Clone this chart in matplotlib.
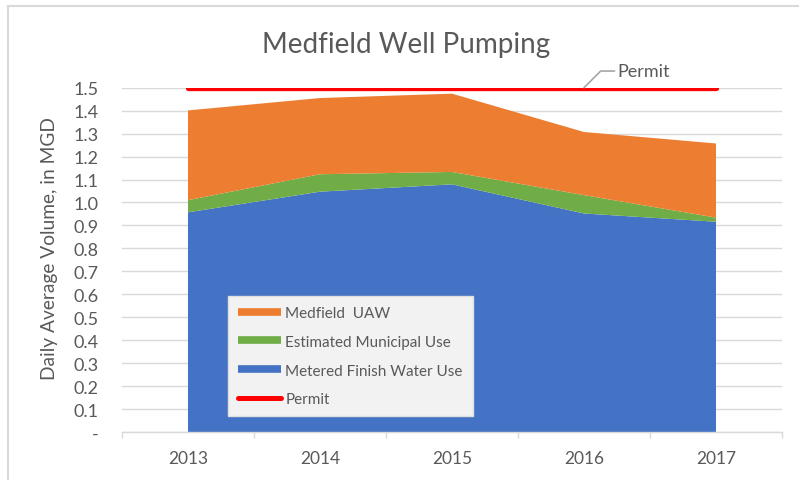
import numpy as np
import matplotlib
matplotlib.use("Agg")
from matplotlib import pyplot as plt
from matplotlib.lines import Line2D

plt.rcParams['font.family'] = ['Lato', 'DejaVu Sans']

# data (MGD)
years = ['2013', '2014', '2015', '2016', '2017']
metered = [0.957, 1.047, 1.079, 0.952, 0.916]
municipal = [0.053, 0.076, 0.054, 0.080, 0.018]
uaw = [0.391, 0.332, 0.341, 0.275, 0.323]
permit = [1.5, 1.5, 1.5, 1.5, 1.5]
yticks = [0.0, 0.1, 0.2, 0.3, 0.4, 0.5, 0.6, 0.7, 0.8, 0.9, 1.0, 1.1, 1.2, 1.3, 1.4, 1.5]
ytick_labels = ['-'] + ['%.1f' % v for v in yticks[1:]]

c_blue = '#4472C4'
c_green = '#70AD47'
c_orange = '#ED7D31'
c_red = '#FF0000'
c_grid = '#D9D9D9'
c_text = '#595959'

fig = plt.figure(figsize=(7.99, 4.81), dpi=100)
ax = fig.add_axes([122/799, 48/481, 660/799, 344.3/481])

x = np.arange(len(years))
ax.stackplot(x, metered, municipal, uaw, colors=[c_blue, c_green, c_orange],
             linewidth=0, zorder=2)
ax.plot(x, permit, color=c_red, lw=3.8, solid_capstyle='round', zorder=3)

# permit data label with leader line
ax.annotate('Permit', xy=(x[3], permit[3]), xytext=(24, 12), textcoords='offset points',
            fontsize=13, color=c_text, va='center', ha='left',
            arrowprops=dict(arrowstyle='-', color='#A6A6A6', lw=1.2,
                            connectionstyle='angle,angleA=0,angleB=45,rad=0',
                            relpos=(0, 0.5), shrinkA=0, shrinkB=0),
            zorder=4)

ax.set_xlim(-0.5, 4.5)
ax.set_ylim(0, 1.5)
ax.set_yticks(yticks)
ax.set_yticklabels(ytick_labels)
ax.set_xticks(x)
ax.set_xticklabels(years)
ax.set_xticks(np.arange(-0.5, 5, 1.0), minor=True)
ax.tick_params(axis='x', which='major', length=0, pad=13, labelsize=12.5, labelcolor=c_text)
ax.tick_params(axis='x', which='minor', length=4, color=c_grid, width=1)
ax.tick_params(axis='y', length=0, pad=17, labelsize=13, labelcolor=c_text)
ax.yaxis.grid(True, color=c_grid, lw=1)
ax.set_axisbelow(True)
for s in ['left', 'top', 'right']:
    ax.spines[s].set_visible(False)
ax.spines['bottom'].set_color(c_grid)
ax.spines['bottom'].set_linewidth(1)

fig.text(50/799, 1 - 249/481, 'Daily Average Volume, in MGD', rotation=90,
         ha='center', va='center', fontsize=13.8, color=c_text)
fig.text(406/799, 1 - 45/481, 'Medfield Well Pumping', ha='center', va='center',
         fontsize=20, color=c_text)

handles = [
    Line2D([], [], color=c_orange, lw=5.5, solid_capstyle='butt'),
    Line2D([], [], color=c_green, lw=5.5, solid_capstyle='butt'),
    Line2D([], [], color=c_blue, lw=5.5, solid_capstyle='butt'),
    Line2D([], [], color=c_red, lw=3.6, solid_capstyle='round'),
]
labels = ['Medfield  UAW', 'Estimated Municipal Use', 'Metered Finish Water Use', 'Permit']
leg = ax.legend(handles, labels, loc='upper left', bbox_to_anchor=(228/799, 1 - 297/481),
                bbox_transform=fig.transFigure, borderaxespad=0, fontsize=11,
                handlelength=2.8, handletextpad=0.3, labelspacing=0.97,
                borderpad=0.65, fancybox=False, framealpha=1,
                facecolor='#F2F2F2', edgecolor='#E0E0E0', labelcolor=c_text)
leg.set_zorder(5)

# outer chart frame (top and left edges visible)
fig.add_artist(Line2D([8/799, 8/799], [0, 1 - 7/481], color=c_grid, lw=1.5))
fig.add_artist(Line2D([8/799, 1], [1 - 7/481, 1 - 7/481], color=c_grid, lw=1.5))

fig.savefig('out.png', dpi=100)
